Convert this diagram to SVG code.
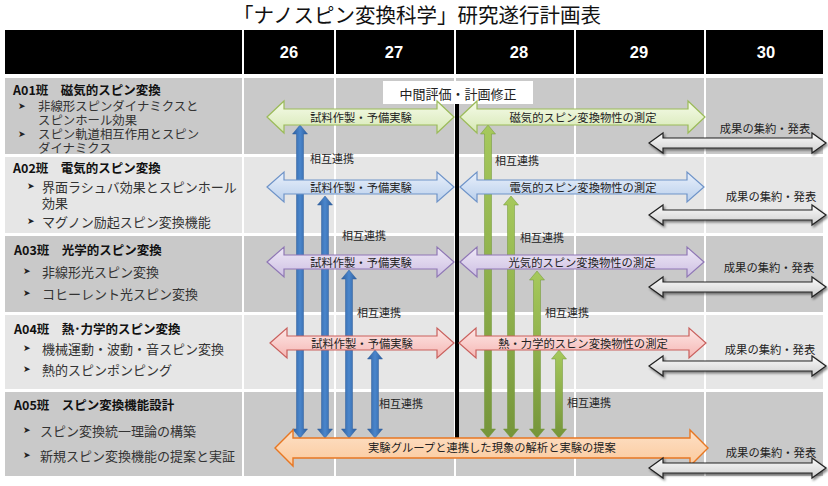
<svg xmlns="http://www.w3.org/2000/svg" xmlns:xlink="http://www.w3.org/1999/xlink" width="828" height="486" viewBox="0 0 828 486">
<style>
.jp{font-family:"Noto Sans CJK JP","Noto Sans",sans-serif}
.title{font-size:20.5px;fill:#111}
.yr{font-family:"Liberation Sans",Arial,sans-serif;font-weight:bold;font-size:16.5px;fill:#fff}
.hd{font-size:12.5px;font-weight:bold;fill:#111}
.it{font-size:13px;fill:#333}
.it2{font-size:12.4px;fill:#333}
.bl{font-family:"DejaVu Sans",sans-serif;font-size:9px;fill:#222}
.at{font-size:11.3px;fill:#222}
.lk{font-size:11px;fill:#222}
.dark{fill:#c9c9c9}
.light{fill:#e6e6e6}
.sep{fill:#fff}
.hg{stroke:#9bbb59;stroke-width:1.2;fill:url(#gGreen)}
.hb{stroke:#6e93c8;stroke-width:1.2;fill:url(#gBlue)}
.hp{stroke:#8f77b5;stroke-width:1.2;fill:url(#gPurple)}
.hr{stroke:#c9605d;stroke-width:1.2;fill:url(#gRed)}
.ho{stroke:#e87722;stroke-width:1.4;fill:url(#gOrange)}
.vb{fill:url(#vBlue);stroke:#2f5f9c;stroke-width:0.5}
.vg{fill:url(#vGreen);stroke:#6f9434;stroke-width:0.5}
</style>
<defs>
<linearGradient id="gGreen" x1="0" y1="0" x2="0" y2="1"><stop offset="0" stop-color="#f6fbea"/><stop offset="1" stop-color="#d6e8b4"/></linearGradient>
<linearGradient id="gBlue" x1="0" y1="0" x2="0" y2="1"><stop offset="0" stop-color="#e9f0fb"/><stop offset="1" stop-color="#b9cfec"/></linearGradient>
<linearGradient id="gPurple" x1="0" y1="0" x2="0" y2="1"><stop offset="0" stop-color="#efe9f7"/><stop offset="1" stop-color="#cdbfe2"/></linearGradient>
<linearGradient id="gRed" x1="0" y1="0" x2="0" y2="1"><stop offset="0" stop-color="#fde7e6"/><stop offset="1" stop-color="#f5b6b3"/></linearGradient>
<linearGradient id="gOrange" x1="0" y1="0" x2="0" y2="1"><stop offset="0" stop-color="#fde0c6"/><stop offset="1" stop-color="#fbc99c"/></linearGradient>
<linearGradient id="gGray" x1="0" y1="0" x2="0" y2="1"><stop offset="0" stop-color="#fbfbfb"/><stop offset="1" stop-color="#cfcfcf"/></linearGradient>
<linearGradient id="vBlue" x1="0" y1="0" x2="1" y2="0"><stop offset="0" stop-color="#2d5e9e"/><stop offset="0.5" stop-color="#4a86cc"/><stop offset="1" stop-color="#2d5e9e"/></linearGradient>
<linearGradient id="vGreen" x1="0" y1="0" x2="0" y2="1"><stop offset="0" stop-color="#a6c95c"/><stop offset="1" stop-color="#75953a"/></linearGradient>
<filter id="sh" x="-10%" y="-40%" width="120%" height="180%"><feDropShadow dx="1.5" dy="2" stdDeviation="1.2" flood-color="#000" flood-opacity="0.45"/></filter>
<path id="grayArrow" d="M649,0 L663,-10 L663,-5 L812,-5 L812,-10 L826,0 L812,10 L812,5 L663,5 L663,10 Z" fill="url(#gGray)" stroke="#222" stroke-width="1.2" filter="url(#sh)"/>
</defs>
<rect width="828" height="486" fill="#fff"/>
<text class="jp title" x="417" y="14" text-anchor="middle" dominant-baseline="central">「ナノスピン変換科学」研究遂行計画表</text>

<g id="header">
<rect x="5" y="30" width="818" height="44" fill="#000"/>
<rect class="sep" x="242" y="30" width="2" height="44"/>
<rect class="sep" x="334" y="30" width="2" height="44"/>
<rect class="sep" x="454" y="30" width="2" height="44"/>
<rect class="sep" x="574" y="30" width="2" height="44"/>
<rect class="sep" x="704" y="30" width="2" height="44"/>
<text class="yr" x="289" y="58" text-anchor="middle">26</text>
<text class="yr" x="394" y="58" text-anchor="middle">27</text>
<text class="yr" x="519" y="58" text-anchor="middle">28</text>
<text class="yr" x="639" y="58" text-anchor="middle">29</text>
<text class="yr" x="766" y="58" text-anchor="middle">30</text>
</g>

<g id="row-A01">
<rect class="dark" x="5" y="78" width="818" height="76"/>
<text class="jp hd" x="13" y="89" dominant-baseline="central">A01班　磁気的スピン変換</text>
<text class="bl" x="18" y="106" dominant-baseline="central">➤</text>
<text class="jp it2" x="38" y="106" dominant-baseline="central">非線形スピンダイナミクスと</text>
<text class="jp it2" x="38" y="120" dominant-baseline="central">スピンホール効果</text>
<text class="bl" x="18" y="134" dominant-baseline="central">➤</text>
<text class="jp it2" x="38" y="134" dominant-baseline="central">スピン軌道相互作用とスピン</text>
<text class="jp it2" x="38" y="148" dominant-baseline="central">ダイナミクス</text>
</g>
<g id="row-A02">
<rect class="light" x="5" y="157" width="818" height="76"/>
<text class="jp hd" x="13" y="167" dominant-baseline="central">A02班　電気的スピン変換</text>
<text class="bl" x="27" y="186" dominant-baseline="central">➤</text>
<text class="jp it" x="42" y="186" dominant-baseline="central">界面ラシュバ効果とスピンホール</text>
<text class="jp it" x="42" y="202" dominant-baseline="central">効果</text>
<text class="bl" x="27" y="221" dominant-baseline="central">➤</text>
<text class="jp it" x="42" y="221" dominant-baseline="central">マグノン励起スピン変換機能</text>
</g>
<g id="row-A03">
<rect class="dark" x="5" y="236" width="818" height="76"/>
<text class="jp hd" x="14" y="249" dominant-baseline="central">A03班　光学的スピン変換</text>
<text class="bl" x="23" y="271" dominant-baseline="central">➤</text>
<text class="jp it" x="42" y="271" dominant-baseline="central">非線形光スピン変換</text>
<text class="bl" x="23" y="293" dominant-baseline="central">➤</text>
<text class="jp it" x="42" y="293" dominant-baseline="central">コヒーレント光スピン変換</text>
</g>
<g id="row-A04">
<rect class="light" x="5" y="315" width="818" height="74"/>
<text class="jp hd" x="14" y="328" dominant-baseline="central">A04班　熱･力学的スピン変換</text>
<text class="bl" x="23" y="348" dominant-baseline="central">➤</text>
<text class="jp it" x="42" y="348" dominant-baseline="central">機械運動・波動・音スピン変換</text>
<text class="bl" x="23" y="369" dominant-baseline="central">➤</text>
<text class="jp it" x="42" y="369" dominant-baseline="central">熱的スピンポンピング</text>
</g>
<g id="row-A05">
<rect class="dark" x="5" y="392" width="818" height="84"/>
<text class="jp hd" x="14" y="404" dominant-baseline="central">A05班　スピン変換機能設計</text>
<text class="bl" x="23" y="430" dominant-baseline="central">➤</text>
<text class="jp it" x="40" y="430" dominant-baseline="central">スピン変換統一理論の構築</text>
<text class="bl" x="23" y="455" dominant-baseline="central">➤</text>
<text class="jp it" x="40" y="455" dominant-baseline="central">新規スピン変換機能の提案と実証</text>
</g>

<g id="grid">
<rect class="sep" x="242" y="74" width="2" height="402"/>
<rect class="sep" x="334" y="74" width="2" height="402"/>
<rect class="sep" x="454" y="74" width="2" height="402"/>
<rect class="sep" x="574" y="74" width="2" height="402"/>
<rect class="sep" x="704" y="74" width="2" height="402"/>
</g>

<g id="midterm">
<rect x="455" y="102" width="4" height="345" fill="#000"/>
<rect x="383" y="81" width="150" height="23" fill="#fff"/>
<text class="jp" x="458" y="93" font-size="13px" fill="#222" text-anchor="middle" dominant-baseline="central">中間評価・計画修正</text>
</g>

<g id="connectors">
<path class="vb" d="M300,125 L307.5,134 L303.5,134 L303.5,429 L307.5,429 L300,438 L292.5,429 L296.5,429 L296.5,134 L292.5,134 Z"/>
<path class="vb" d="M325,196 L332.5,205 L328.5,205 L328.5,429 L332.5,429 L325,438 L317.5,429 L321.5,429 L321.5,205 L317.5,205 Z"/>
<path class="vb" d="M349,270 L356.5,279 L352.5,279 L352.5,429 L356.5,429 L349,438 L341.5,429 L345.5,429 L345.5,279 L341.5,279 Z"/>
<path class="vb" d="M375,350 L382.5,359 L378.5,359 L378.5,429 L382.5,429 L375,438 L367.5,429 L371.5,429 L371.5,359 L367.5,359 Z"/>
<path class="vg" d="M488,125 L495.5,134 L491.5,134 L491.5,429 L495.5,429 L488,438 L480.5,429 L484.5,429 L484.5,134 L480.5,134 Z"/>
<path class="vg" d="M511,196 L518.5,205 L514.5,205 L514.5,429 L518.5,429 L511,438 L503.5,429 L507.5,429 L507.5,205 L503.5,205 Z"/>
<path class="vg" d="M537,271 L544.5,280 L540.5,280 L540.5,429 L544.5,429 L537,438 L529.5,429 L533.5,429 L533.5,280 L529.5,280 Z"/>
<path class="vg" d="M559,350 L566.5,359 L562.5,359 L562.5,429 L566.5,429 L559,438 L551.5,429 L555.5,429 L555.5,359 L551.5,359 Z"/>
<text class="jp lk" x="310" y="158" dominant-baseline="central">相互連携</text>
<text class="jp lk" x="342" y="235" dominant-baseline="central">相互連携</text>
<text class="jp lk" x="357" y="312" dominant-baseline="central">相互連携</text>
<text class="jp lk" x="379" y="403" dominant-baseline="central">相互連携</text>
<text class="jp lk" x="495" y="160" dominant-baseline="central">相互連携</text>
<text class="jp lk" x="520" y="237" dominant-baseline="central">相互連携</text>
<text class="jp lk" x="545" y="312" dominant-baseline="central">相互連携</text>
<text class="jp lk" x="567" y="402" dominant-baseline="central">相互連携</text>
</g>

<g id="bar-A01">
<path class="hg" d="M267,117 L284,101 L284,109 L437,109 L437,101 L454,117 L437,133 L437,125 L284,125 L284,133 Z"/>
<text class="jp at" x="361" y="117" text-anchor="middle" dominant-baseline="central">試料作製・予備実験</text>
<path class="hg" d="M460,117 L477,101 L477,109 L688,109 L688,101 L705,117 L688,133 L688,125 L477,125 L477,133 Z"/>
<text class="jp at" x="583" y="117" text-anchor="middle" dominant-baseline="central">磁気的スピン変換物性の測定</text>
</g>
<g id="bar-A02">
<path class="hb" d="M267,187 L284,172 L284,180 L437,180 L437,172 L454,187 L437,202 L437,194 L284,194 L284,202 Z"/>
<text class="jp at" x="361" y="187" text-anchor="middle" dominant-baseline="central">試料作製・予備実験</text>
<path class="hb" d="M460,187 L477,172 L477,180 L687,180 L687,172 L704,187 L687,202 L687,194 L477,194 L477,202 Z"/>
<text class="jp at" x="583" y="187" text-anchor="middle" dominant-baseline="central">電気的スピン変換物性の測定</text>
</g>
<g id="bar-A03">
<path class="hp" d="M267,262 L284,247 L284,255 L437,255 L437,247 L454,262 L437,277 L437,269 L284,269 L284,277 Z"/>
<text class="jp at" x="361" y="262" text-anchor="middle" dominant-baseline="central">試料作製・予備実験</text>
<path class="hp" d="M460,262 L477,247 L477,255 L687,255 L687,247 L704,262 L687,277 L687,269 L477,269 L477,277 Z"/>
<text class="jp at" x="582" y="262" text-anchor="middle" dominant-baseline="central">光気的スピン変換物性の測定</text>
</g>
<g id="bar-A04">
<path class="hr" d="M270,343 L287,328 L287,336 L437,336 L437,328 L454,343 L437,358 L437,350 L287,350 L287,358 Z"/>
<text class="jp at" x="362" y="343" text-anchor="middle" dominant-baseline="central">試料作製・予備実験</text>
<path class="hr" d="M459,343 L476,328 L476,336 L689,336 L689,328 L706,343 L689,358 L689,350 L476,350 L476,358 Z"/>
<text class="jp at" x="583" y="343" text-anchor="middle" dominant-baseline="central">熱・力学的スピン変換物性の測定</text>
</g>
<g id="bar-A05">
<path class="ho" d="M275,448 L293,430 L293,438 L690,438 L690,430 L708,448 L690,466 L690,458 L293,458 L293,466 Z"/>
<text class="jp at" x="492" y="447" text-anchor="middle" dominant-baseline="central">実験グループと連携した現象の解析と実験の提案</text>
</g>

<g id="results">
<use xlink:href="#grayArrow" transform="translate(0,143)"/>
<use xlink:href="#grayArrow" transform="translate(0,215)"/>
<use xlink:href="#grayArrow" transform="translate(0,287)"/>
<use xlink:href="#grayArrow" transform="translate(0,366)"/>
<use xlink:href="#grayArrow" transform="translate(0,468)"/>
<text class="jp at" x="765" y="128" text-anchor="middle" dominant-baseline="central">成果の集約・発表</text>
<text class="jp at" x="771" y="196" text-anchor="middle" dominant-baseline="central">成果の集約・発表</text>
<text class="jp at" x="769" y="267" text-anchor="middle" dominant-baseline="central">成果の集約・発表</text>
<text class="jp at" x="770" y="349" text-anchor="middle" dominant-baseline="central">成果の集約・発表</text>
<text class="jp at" x="771" y="452" text-anchor="middle" dominant-baseline="central">成果の集約・発表</text>
</g>
</svg>
